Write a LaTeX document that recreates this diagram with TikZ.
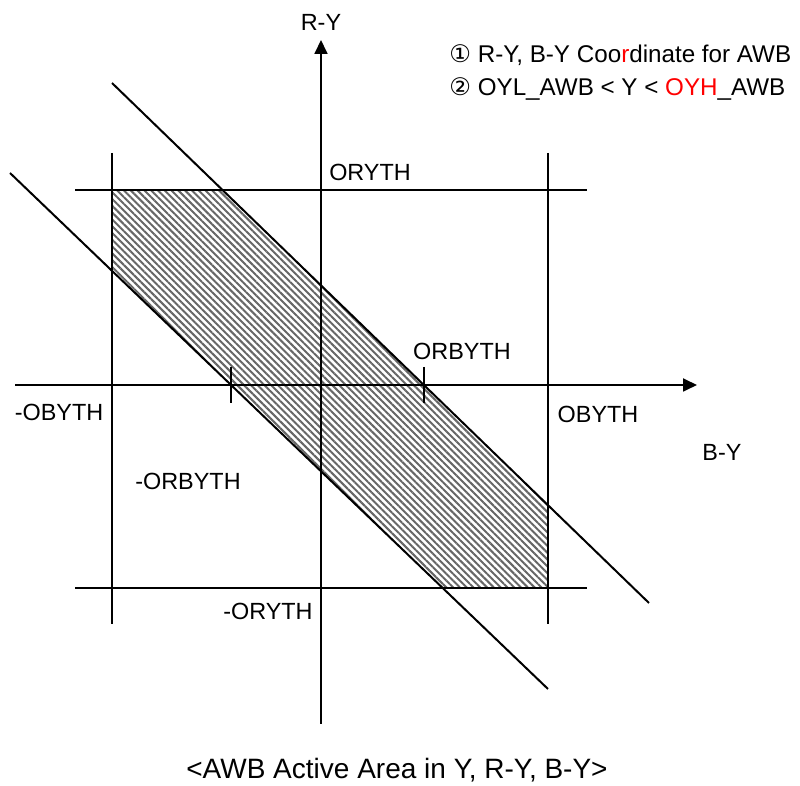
\documentclass[tikz,border=0pt]{standalone}
\usepackage{fontspec}
\setmainfont{Liberation Sans}
\newfontfamily\circfont{DejaVu Sans}
\usepackage{xcolor}
\usetikzlibrary{arrows.meta,patterns.meta,intersections,calc}
\definecolor{markred}{RGB}{255,0,0}

\begin{document}
\begin{tikzpicture}[
  x=0.5pt, y=-0.5pt,
  lbl/.style={font=\fontsize{11.7}{14}\selectfont,inner sep=0pt},
  note/.style={font=\fontsize{12.1}{14}\selectfont,inner sep=0pt,anchor=west},
  thr/.style={line width=1pt},
  axis/.style={line width=0.9pt,-{Triangle[length=7pt,width=6.5pt]}},
  hatch/.style={pattern={Lines[angle=-45,distance=2.4pt,line width=1pt]},pattern color=black!60}
]
\useasboundingbox (0,0) rectangle (800,786);

% limits and the two Y-dependent lines
\path[name path=up] (112,83) -- (649,603);
\path[name path=lo] (10,173) -- (548,689);
\path[name path=top] (75,190) -- (587,190);
\path[name path=bot] (75,588) -- (587,588);
\path[name path=lft] (112,153) -- (112,624);
\path[name path=rgt] (548,153) -- (548,624);
\path[name path=xax] (15,385) -- (697,385);

\path[name intersections={of=up and top,by=ut}];
\path[name intersections={of=up and rgt,by=ur}];
\path[name intersections={of=lo and bot,by=lb}];
\path[name intersections={of=lo and lft,by=ll}];
\path[name intersections={of=up and xax,by=ux}];
\path[name intersections={of=lo and xax,by=lx}];

% active area
\fill[hatch] (112,190) -- (ut) -- (ur) -- (548,588) -- (lb) -- (ll) -- cycle;

% axes
\draw[axis] (15,385) -- (697,385);
\draw[axis] (321,724) -- (321,40);

% threshold lines
\draw[thr] (75,190) -- (587,190);
\draw[thr] (75,588) -- (587,588);
\draw[thr] (112,153) -- (112,624);
\draw[thr] (548,153) -- (548,624);
\draw[thr] (112,83) -- (649,603);
\draw[thr] (10,173) -- (548,689);
\draw[thr] ($(ux)+(0,-18)$) -- ($(ux)+(0,18)$);
\draw[thr] ($(lx)+(0,-18)$) -- ($(lx)+(0,18)$);

% labels
\node[lbl] (ry) at (321,22) {R-Y};
\node[lbl] (by) at (722,452) {B-Y};
\node[lbl] (oryth) at (370,172) {ORYTH};
\node[lbl] (noryth) at (268,611) {-ORYTH};
\node[lbl] (orbyth) at (462,351) {ORBYTH};
\node[lbl] (norbyth) at (188,481) {-ORBYTH};
\node[lbl] (obyth) at (598,414) {OBYTH};
\node[lbl] (nobyth) at (59,412) {-OBYTH};

\node[note] (note1) at (449,55) {{\circfont ①} R-Y, B-Y Coo\textcolor{markred}{r}dinate for AWB};
\node[note] (note2) at (449,89) {{\circfont ②} OYL\_AWB < Y < \textcolor{markred}{OYH}\_AWB};

\node[lbl,font=\fontsize{14}{16}\selectfont] (caption) at (397,770) {<AWB Active Area in Y, R-Y, B-Y>};
\end{tikzpicture}
\end{document}
